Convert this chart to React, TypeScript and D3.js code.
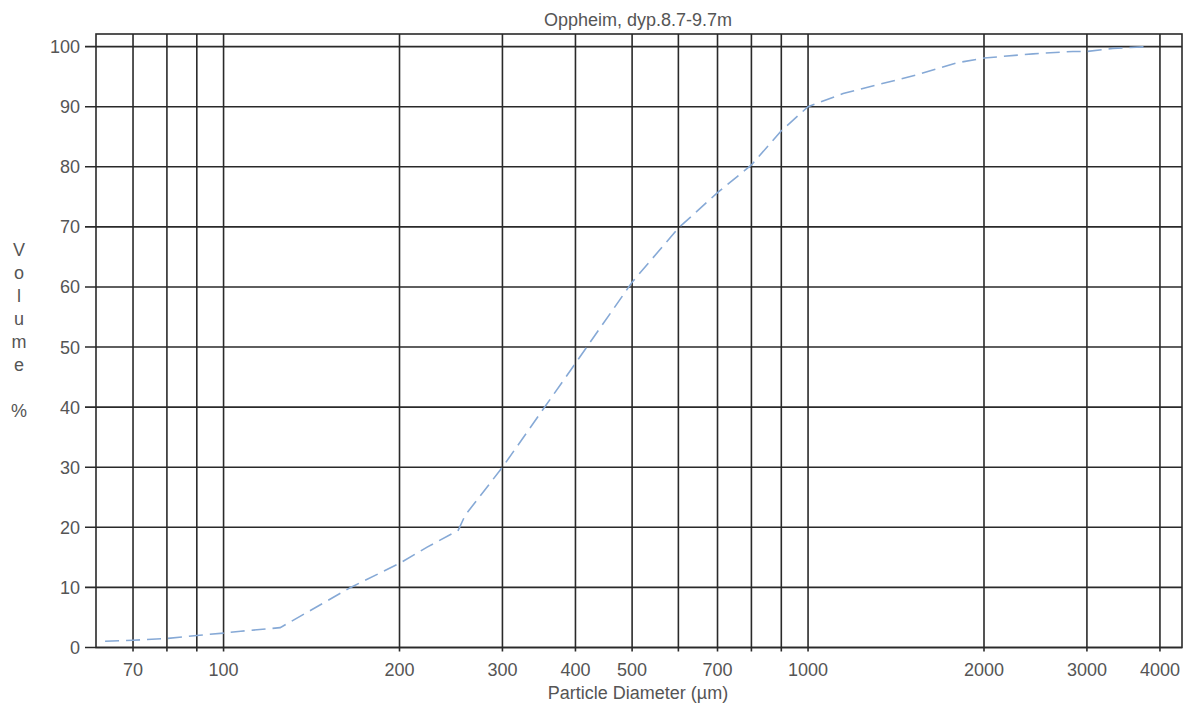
import { useEffect, useRef } from "react"
import * as d3 from "d3"

// particle diameter (µm) and cumulative volume (%)
const diameters = [62.7, 70, 80, 90, 100, 107, 125, 141, 165, 200, 223, 252, 259, 300, 400, 500, 600, 700, 800, 900, 1000, 1148, 1535, 1797, 2000, 2426, 2840, 3000, 3323, 3815]
const volumes = [1.05, 1.2, 1.5, 2.0, 2.4, 2.7, 3.3, 6.2, 10, 14, 16.7, 19.5, 22, 30, 47.3, 60.8, 69.8, 75.7, 80.3, 86, 90, 92.2, 95.3, 97.3, 98.1, 98.8, 99.2, 99.2, 99.7, 100]

const xGrid = [70, 80, 90, 100, 200, 300, 400, 500, 600, 700, 800, 900, 1000, 2000, 3000, 4000]
const xLabels = [70, 100, 200, 300, 400, 500, 700, 1000, 2000, 3000, 4000]
const yTicks = [0, 10, 20, 30, 40, 50, 60, 70, 80, 90, 100]

const title = "Oppheim, dyp.8.7-9.7m"
const xTitle = "Particle Diameter (µm)"
const yTitle = "Volume %"

const App = () => {
  const svgRef = useRef<SVGSVGElement>(null)

  useEffect(() => {
    const width = 1190
    const height = 709
    const left = 96
    const right = 1182
    const top = 34
    const bottom = 647.5
    const font = "'Liberation Sans', Arial, sans-serif"
    const textColor = "#555"
    const gridColor = "#2a2a2a"

    const x = d3.scaleLog().domain([60.5, 4363]).range([left, right])
    const y = d3.scaleLinear().domain([0, 102.1]).range([bottom, top])

    d3.select(svgRef.current).selectAll("*").remove()
    const svg = d3.select(svgRef.current).attr("width", width).attr("height", height)

    svg.append("rect").attr("width", width).attr("height", height).attr("fill", "#fff")

    // horizontal grid + ticks
    svg
      .selectAll(".hgrid")
      .data(yTicks)
      .enter()
      .append("line")
      .attr("x1", left - 11)
      .attr("x2", right)
      .attr("y1", (d) => y(d))
      .attr("y2", (d) => y(d))
      .attr("stroke", gridColor)
      .attr("stroke-width", 1.6)

    // vertical grid + ticks
    svg
      .selectAll(".vgrid")
      .data(xGrid)
      .enter()
      .append("line")
      .attr("x1", (d) => x(d))
      .attr("x2", (d) => x(d))
      .attr("y1", top)
      .attr("y2", bottom + 4)
      .attr("stroke", gridColor)
      .attr("stroke-width", 1.6)

    // frame
    svg
      .append("rect")
      .attr("x", left)
      .attr("y", top)
      .attr("width", right - left)
      .attr("height", bottom - top)
      .attr("fill", "none")
      .attr("stroke", gridColor)
      .attr("stroke-width", 1.6)

    // curve
    const line = d3
      .line<number>()
      .x((d, i) => x(diameters[i]))
      .y((d) => y(d))
    svg
      .append("path")
      .attr("d", line(volumes))
      .attr("fill", "none")
      .attr("stroke", "#86a9d6")
      .attr("stroke-width", 1.6)
      .attr("stroke-dasharray", "14,7")

    // y labels
    svg
      .selectAll(".ylab")
      .data(yTicks)
      .enter()
      .append("text")
      .attr("x", 80)
      .attr("y", (d) => y(d))
      .attr("dy", "0.36em")
      .attr("text-anchor", "end")
      .style("font-family", font)
      .style("font-size", "18px")
      .attr("fill", textColor)
      .text((d) => d)

    // x labels
    svg
      .selectAll(".xlab")
      .data(xLabels)
      .enter()
      .append("text")
      .attr("x", (d) => x(d))
      .attr("y", 676)
      .attr("text-anchor", "middle")
      .style("font-family", font)
      .style("font-size", "18px")
      .attr("fill", textColor)
      .text((d) => d)

    svg
      .append("text")
      .attr("x", 638)
      .attr("y", 26)
      .attr("text-anchor", "middle")
      .style("font-family", font)
      .style("font-size", "18px")
      .attr("fill", textColor)
      .text(title)

    svg
      .append("text")
      .attr("x", 638)
      .attr("y", 699)
      .attr("text-anchor", "middle")
      .style("font-family", font)
      .style("font-size", "18px")
      .attr("fill", textColor)
      .text(xTitle)

    // stacked vertical y title
    svg
      .selectAll(".ytitle")
      .data(yTitle.split(""))
      .enter()
      .append("text")
      .attr("x", 19)
      .attr("y", (d, i) => 250 + i * 23)
      .attr("dy", "0.36em")
      .attr("text-anchor", "middle")
      .style("font-family", font)
      .style("font-size", "18px")
      .attr("fill", textColor)
      .text((d) => d)
  }, [])

  return (
    <div style={{ position: "absolute", left: 0, top: 0 }}>
      <svg ref={svgRef} style={{ display: "block" }}></svg>
    </div>
  )
}

export default App
